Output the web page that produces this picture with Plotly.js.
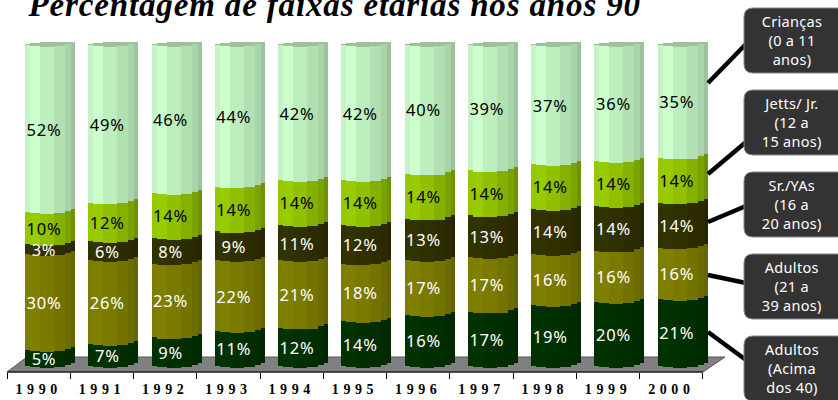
<!DOCTYPE html>
<html><head><meta charset="utf-8">
<script src="https://cdn.plot.ly/plotly-3.0.1.min.js"></script>
<style>
html,body{margin:0;padding:0;background:#fff;overflow:hidden}
#chart{width:838px;height:400px}
.textpoint text{letter-spacing:.8px}
.xtick text{letter-spacing:4.6px}
.annotation[data-index="0"] text{letter-spacing:.85px}
.annotation:not([data-index="0"]) text{letter-spacing:.3px}
</style></head><body><div id="chart"></div>
<script>
var years=['1990','1991','1992','1993','1994','1995','1996','1997','1998','1999','2000'];
var adultos40=[5,7,9,11,12,14,16,17,19,20,21];
var adultos21=[30,26,23,22,21,18,17,17,16,16,16];
var srYas=[3,6,8,9,11,12,13,13,14,14,14];
var jetts=[10,12,14,14,14,14,14,14,14,14,14];
var criancas=[52,49,46,44,42,42,40,39,37,36,35];
var seriesNames=['Adultos (Acima dos 40)','Adultos (21 a 39 anos)','Sr./YAs (16 a 20 anos)','Jetts/ Jr. (12 a 15 anos)','Crianças (0 a 11 anos)'];
var seriesValues=[adultos40,adultos21,srYas,jetts,criancas];
var legendTexts=['Crianças<br>(0 a 11<br>anos)','Jetts/ Jr.<br>(12 a<br>15 anos)','Sr./YAs<br>(16 a<br>20 anos)','Adultos<br>(21 a<br>39 anos)','Adultos<br>(Acima<br>dos 40)'];
var titleText='Percentagem de faixas etárias nos anos 90';

var W=838,H=400;
var plotL=7,plotR=734,plotT=30,plotB=372,catW=63.27,zeroY=366,pxPerPct=3.21;
var bandEdges=[0,5,15,29,40,46,50];
var bandCurve=[0.3,1.4,2,1.2,-1,-3];
var capTop=[0.8,2.5,3.2,3,3,3];
var bandShades=[
 ['#003200','#003300','#003000','#002d00','#002a00','#002700'],
 ['#7d7d00','#808000','#7a7a00','#737300','#6c6c00','#666600'],
 ['#323100','#333300','#302f00','#2d2c00','#2a2900','#272600'],
 ['#96c800','#99cc00','#90c000','#84b000','#7aa200','#6f9300'],
 ['#c4f3c6','#ccffcc','#bdeebd','#b2e0b2','#a9d3a9','#9cc49c']];
var capColor='#9dc19d';
var labelColors=['#fff','#fff','#fff','#000','#000'];
var labelDrop=3;
function px(x){return x/W;} function py(y){return 1-y/H;}
var firstBarOffset=(25-(plotL+catW/2));

var traces=[];
var cum=years.map(function(){return 0;});
var labelX=[],labelY=[],labelT=[],labelC=[];
seriesValues.forEach(function(vals,s){
  bandCurve.forEach(function(c,b){
    traces.push({type:'bar',name:seriesNames[s],showlegend:false,hoverinfo:'skip',x:years,y:vals,
      base:cum.map(function(v){return v-c/pxPerPct;}),
      offset:(firstBarOffset+bandEdges[b])/catW,
      width:(bandEdges[b+1]-bandEdges[b])/catW,
      marker:{color:bandShades[s][b],line:{width:0}}});
  });
  vals.forEach(function(v,i){
    labelX.push(years[i]);labelY.push(cum[i]+v/2-labelDrop/pxPerPct);labelT.push(v+'%');labelC.push(labelColors[s]);
    cum[i]+=v;
  });
});
bandCurve.forEach(function(c,b){
  var low=cum.map(function(v){return v-c/pxPerPct;});
  var h=Math.max(capTop[b]+c,0)/pxPerPct;
  traces.push({type:'bar',showlegend:false,hoverinfo:'skip',x:years,
    y:years.map(function(){return h;}),base:low,
    offset:(firstBarOffset+bandEdges[b])/catW,width:(bandEdges[b+1]-bandEdges[b])/catW,
    marker:{color:capColor,line:{width:0}}});
});
traces.push({type:'scatter',mode:'text',xaxis:'x2',yaxis:'y',x:labelX,y:labelY,text:labelT,
  textposition:'middle center',hoverinfo:'skip',showlegend:false,cliponaxis:false,
  textfont:{family:'"Noto Sans",sans-serif',size:16.5,color:labelC,weight:400}});

var xr=[-0.5,-0.5+(plotR-plotL)/catW];
var labelShift=(44-(plotL+catW/2))/catW;
var shapes=[
 {type:'path',xref:'paper',yref:'paper',layer:'below',
  path:'M'+px(7)+','+py(372)+'L'+px(703)+','+py(372)+'L'+px(725)+','+py(357)+'L'+px(27)+','+py(357)+'Z',
  fillcolor:'#808080',line:{color:'#555',width:1}},
 {type:'line',xref:'paper',yref:'paper',layer:'below',x0:px(7),y0:py(372),x1:px(703),y1:py(372),line:{color:'#000',width:1}}
];
var boxTop=[8,90,172,254,336];
var lineEnds=[[83,44],[174,142],[222,206],[275,283],[332,360]];
var annotations=[{xref:'paper',yref:'paper',x:px(334),y:py(5),xanchor:'center',yanchor:'middle',showarrow:false,
  text:'<b><i>'+titleText+'</i></b>',font:{family:'"Liberation Serif",serif',size:33,color:'#000'}}];
legendTexts.forEach(function(t,i){
  var x0=744,x1=846,y0=boxTop[i],y1=y0+65,r=9;
  shapes.push({type:'line',xref:'paper',yref:'paper',x0:px(708),y0:py(lineEnds[i][0]),x1:px(746),y1:py(lineEnds[i][1]),line:{color:'#000',width:4.5}});
  shapes.push({type:'path',xref:'paper',yref:'paper',
    path:'M'+px(x0+r)+','+py(y0)+'L'+px(x1-r)+','+py(y0)+'Q'+px(x1)+','+py(y0)+' '+px(x1)+','+py(y0+r)+
      'L'+px(x1)+','+py(y1-r)+'Q'+px(x1)+','+py(y1)+' '+px(x1-r)+','+py(y1)+
      'L'+px(x0+r)+','+py(y1)+'Q'+px(x0)+','+py(y1)+' '+px(x0)+','+py(y1-r)+
      'L'+px(x0)+','+py(y0+r)+'Q'+px(x0)+','+py(y0)+' '+px(x0+r)+','+py(y0)+'Z',
    fillcolor:'#333333',line:{color:'#8a8a8a',width:1}});
  annotations.push({xref:'paper',yref:'paper',x:px(792),y:py(y0+32),xanchor:'center',yanchor:'middle',showarrow:false,
    align:'center',text:t,font:{family:'"Noto Sans",sans-serif',size:14.5,color:'#fff'}});
});

var layout={width:W,height:H,margin:{l:0,r:0,t:0,b:0},paper_bgcolor:'#fff',plot_bgcolor:'rgba(0,0,0,0)',
  barmode:'overlay',bargap:0,showlegend:false,hovermode:false,
  xaxis:{domain:[px(plotL),px(plotR)],type:'category',categoryorder:'array',categoryarray:years,range:xr,
    tickson:'boundaries',ticks:'outside',ticklen:6,tickcolor:'#000',tickwidth:1,showgrid:false,zeroline:false,showline:false,
    fixedrange:true,ticklabelstandoff:7,
    tickfont:{family:'"Liberation Serif",serif',size:14,color:'#000',weight:700},anchor:'y'},
  xaxis2:{domain:[px(plotL),px(plotR)],type:'category',categoryorder:'array',categoryarray:years,
    range:[xr[0]-labelShift,xr[1]-labelShift],overlaying:'x',visible:false,anchor:'y',fixedrange:true},
  yaxis:{domain:[py(plotB),py(plotT)],range:[(zeroY-plotB)/pxPerPct,(zeroY-plotT)/pxPerPct],visible:false,fixedrange:true},
  shapes:shapes,annotations:annotations};
Plotly.newPlot('chart',traces,layout,{displayModeBar:false,staticPlot:true});
</script></body></html>
